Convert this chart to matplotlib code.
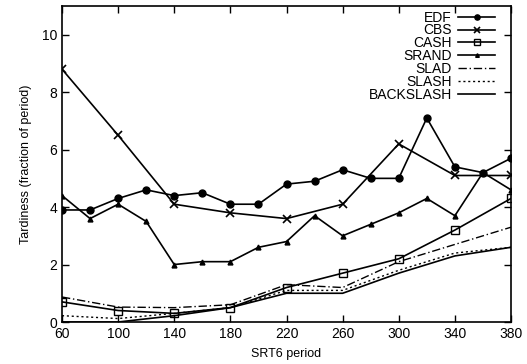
import matplotlib
matplotlib.use("Agg")
import matplotlib.pyplot as plt

plt.rcParams['font.family'] = ['Liberation Sans', 'DejaVu Sans']

x_full = [60, 80, 100, 120, 140, 160, 180, 200, 220, 240, 260, 280, 300, 320, 340, 360, 380]
x_sparse = [60, 100, 140, 180, 220, 260, 300, 340, 380]

edf = [3.9, 3.9, 4.3, 4.6, 4.4, 4.5, 4.1, 4.1, 4.8, 4.9, 5.3, 5.0, 5.0, 7.1, 5.4, 5.2, 5.7]
cbs = [8.8, 6.5, 4.1, 3.8, 3.6, 4.1, 6.2, 5.1, 5.1]
cash = [0.7, 0.4, 0.3, 0.5, 1.2, 1.7, 2.2, 3.2, 4.3]
srand = [4.4, 3.6, 4.1, 3.5, 2.0, 2.1, 2.1, 2.6, 2.8, 3.7, 3.0, 3.4, 3.8, 4.3, 3.7, 5.2, 4.6]
slad = [0.87, 0.52, 0.5, 0.6, 1.3, 1.2, 2.1, 2.7, 3.3]
slash = [0.22, 0.12, 0.3, 0.5, 1.1, 1.1, 1.8, 2.4, 2.6]
backslash = [0.0, 0.0, 0.22, 0.5, 1.0, 1.0, 1.7, 2.3, 2.6]

xticks = [60, 100, 140, 180, 220, 260, 300, 340, 380]
yticks = [0, 2, 4, 6, 8, 10]

fig = plt.figure(figsize=(5.27, 3.64), dpi=100)
ax = fig.add_axes([62/527, 1-322/364, (511-62)/527, (322-6)/364])

lw = 1.2
ax.plot(x_full, edf, color='black', lw=lw, marker='o', ms=5, label='EDF')
ax.plot(x_sparse, cbs, color='black', lw=lw, marker='x', ms=6, mew=1.2, label='CBS')
ax.plot(x_sparse, cash, color='black', lw=lw, marker='s', ms=6, mfc='none', mew=1.0, label='CASH')
ax.plot(x_full, srand, color='black', lw=lw, marker='^', ms=3.5, label='SRAND')
ax.plot(x_sparse, slad, color='black', lw=1.0, ls=(0, (6, 2, 1, 2)), label='SLAD')
ax.plot(x_sparse, slash, color='black', lw=1.0, ls=(0, (1.5, 2)), label='SLASH')
ax.plot(x_sparse, backslash, color='black', lw=lw, label='BACKSLASH')

ax.set_xlim(60, 380)
ax.set_ylim(0, 11)
ax.set_xticks(xticks)
ax.set_yticks(yticks)
ax.tick_params(direction='in', top=True, right=True, length=5, labelsize=10, width=1)
for s in ax.spines.values():
    s.set_linewidth(1.2)
ax.set_xlabel('SRT6 period', fontsize=9, labelpad=5)
ax.set_ylabel('Tardiness (fraction of period)', fontsize=9, labelpad=7)

leg = ax.legend(loc='upper right', bbox_to_anchor=(0.9675, 0.99), frameon=False,
                markerfirst=False, fontsize=10, markerscale=0.75,
                handlelength=2.65, handletextpad=0.45, labelspacing=-0.08,
                borderpad=0.1, borderaxespad=0.0)

fig.savefig('out.png', dpi=100)
